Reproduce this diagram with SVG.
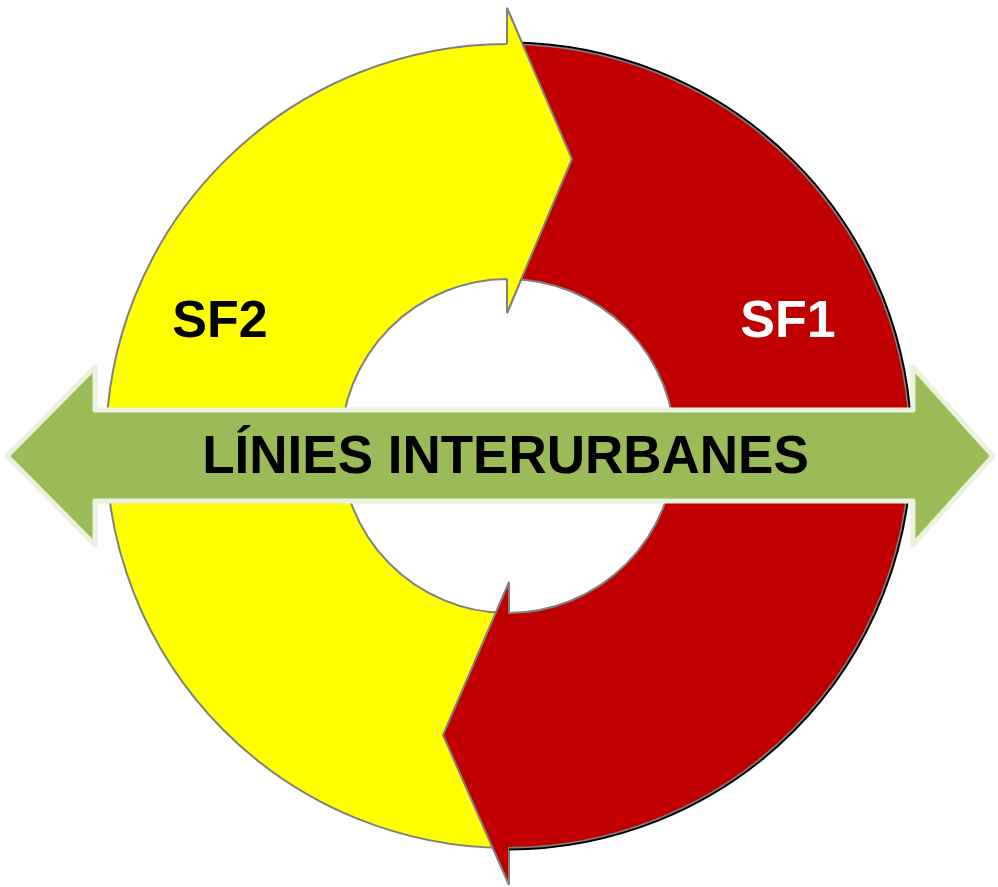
<svg xmlns="http://www.w3.org/2000/svg" width="998" height="887" viewBox="0 0 998 887">
<style>
.lbl{font-family:"Liberation Sans",Arial,sans-serif;font-weight:bold;text-anchor:middle}
.ring{stroke:#808080;stroke-width:2;stroke-linejoin:miter}
</style>
<rect width="998" height="887" fill="#ffffff"/>
<g id="sf2-arrow">
<path class="ring" fill="#FFFF00" d="M507,44 A402,402 0 0 0 106,446 A402,402 0 0 0 505,848 L505,613 A167,167 0 0 1 341,446 A167,167 0 0 1 507,279 L507,313 L572,159 L507,8 Z"/>
</g>
<g id="sf1-arrow">
<path class="ring" fill="#C00000" d="M510,44 A402,402 0 0 1 910,446 A402,402 0 0 1 509,848 L509,885 L443,735 L509,582 L509,613 A167,167 0 0 0 675,446 A167,167 0 0 0 510,279 Z"/>
<path fill="none" stroke="#000000" stroke-width="2" d="M510,42.5 A403.5,403.5 0 0 1 911.5,446 A403.5,403.5 0 0 1 509,849.5"/>
</g>
<g id="sf2-head">
<path class="ring" fill="#FFFF00" d="M507,44 L507,8 L572,159 L507,313 L507,279"/>
</g>
<g id="interurban-arrow">
<path fill="#9BBB59" stroke="#EAF1DD" stroke-width="5" stroke-linejoin="round" d="M7,456 L95,367 L95,410 L913,410 L913,367 L993,456 L913,545 L913,501 L95,501 L95,545 Z"/>
</g>
<g id="labels">
<text class="lbl" x="220" y="337" font-size="52" fill="#000000">SF2</text>
<text class="lbl" x="788" y="337" font-size="52" fill="#FFFFFF">SF1</text>
<text class="lbl" x="505.5" y="473" font-size="53" fill="#000000">LÍNIES INTERURBANES</text>
</g>
</svg>
